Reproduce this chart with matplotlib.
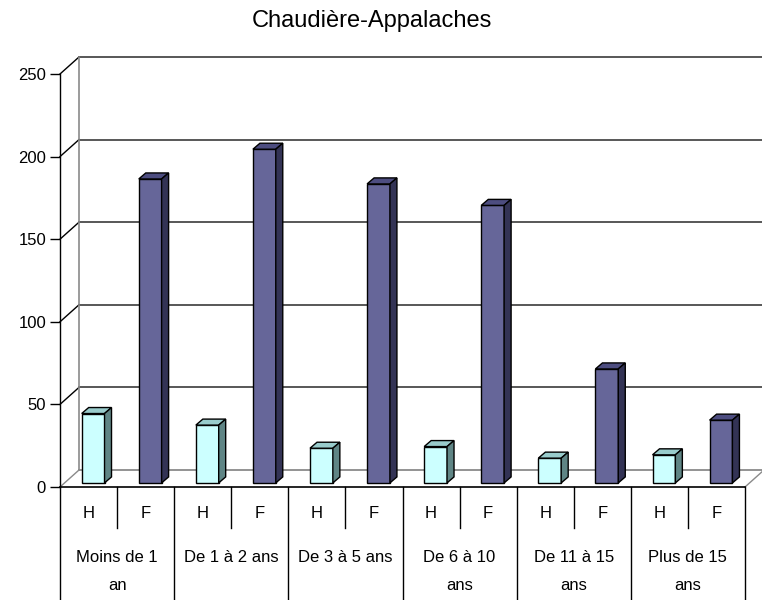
import matplotlib
matplotlib.use("Agg")
import matplotlib.pyplot as plt
from matplotlib.patches import Polygon

plt.rcParams['font.family'] = ['Liberation Sans', 'DejaVu Sans']

title = "Chaudière-Appalaches"
groups = ["Moins de 1\nan", "De 1 à 2 ans", "De 3 à 5 ans", "De 6 à 10\nans", "De 11 à 15\nans", "Plus de 15\nans"]
sexes = ["H", "F"]
h_values = [42, 35, 21, 22, 15, 17]
f_values = [184, 202, 181, 168, 69, 38]
yticks = [0, 50, 100, 150, 200, 250]

face_cols = {"H": "#CCFFFF", "F": "#666699"}
top_cols = {"H": "#99CCCC", "F": "#4D4D80"}
side_cols = {"H": "#5F8585", "F": "#333355"}

W, H = 762, 600
fig = plt.figure(figsize=(W / 100, H / 100), dpi=100)
ax_l, ax_r, ax_t, ax_b = 60, 745, 74, 487
ax = fig.add_axes([ax_l / W, (H - ax_b) / H, (ax_r - ax_l) / W, (ax_b - ax_t) / H])
nslots = len(groups) * 2
ax.set_xlim(0, nslots)
ax.set_ylim(0, 250)
for s in ["top", "right", "bottom"]:
    ax.spines[s].set_visible(False)
ax.spines["left"].set_color("black")
ax.spines["left"].set_linewidth(1.0)
ax.set_xticks([])
ax.set_yticks(yticks)
ax.tick_params(axis="y", length=7, width=1, pad=3, labelsize=12, direction="out")
ax.patch.set_alpha(0)

# pixel -> data conversions
pxx = (ax_r - ax_l) / nslots
pxy = (ax_b - ax_t) / 250.0
ddx, ddy = 19 / pxx, 17 / pxy          # wall depth
bdx, bdy = 7 / pxx, 6 / pxy            # bar depth
fo = 0.24                              # bar placement in depth
ox, oy = fo * ddx, fo * ddy
bw = 0.40

grid_dark = "#4A4A4A"
grid_light = "#8A8A8A"
# back wall gridlines
for v in yticks:
    c = grid_light if v == 0 else grid_dark
    ax.plot([ddx, nslots + ddx], [v + ddy, v + ddy], color=c, lw=1.3, clip_on=False, zorder=1)
    ax.plot([0, ddx], [v, v + ddy], color=(grid_light if v == 0 else "black"), lw=1.0, clip_on=False, zorder=1)
ax.plot([ddx, ddx], [ddy, 250 + ddy], color=grid_light, lw=1.2, clip_on=False, zorder=1)
ax.plot([nslots, nslots + ddx], [0, ddy], color=grid_light, lw=1.0, clip_on=False, zorder=1)

# bars
for gi in range(len(groups)):
    for si, (sx, vals) in enumerate(zip(sexes, [h_values, f_values])):
        v = vals[gi]
        xc = gi * 2 + si + 0.5 + ox
        x0, x1 = xc - bw / 2, xc + bw / 2
        ax.bar([xc], [v], bottom=oy, width=bw, color=face_cols[sx], edgecolor="black",
               linewidth=1.0, zorder=3, clip_on=False)
        top = Polygon([(x0, v + oy), (x1, v + oy), (x1 + bdx, v + oy + bdy), (x0 + bdx, v + oy + bdy)],
                      closed=True, facecolor=top_cols[sx], edgecolor="black", lw=1.0, zorder=3,
                      clip_on=False)
        side = Polygon([(x1, oy), (x1 + bdx, oy + bdy), (x1 + bdx, v + oy + bdy), (x1, v + oy)],
                       closed=True, facecolor=side_cols[sx], edgecolor="black", lw=1.0, zorder=3,
                       clip_on=False)
        ax.add_patch(top)
        ax.add_patch(side)

# category table
xt = ax.get_xaxis_transform()
def fy(px):
    return -px / (ax_b - ax_t)

ax.plot([0, nslots], [0, 0], color="black", lw=1.2, clip_on=False, zorder=4)
for g in range(len(groups) + 1):
    ax.plot([g * 2, g * 2], [0, fy(130)], transform=xt, color="black", lw=1.0, clip_on=False, zorder=4)
for g in range(len(groups)):
    ax.plot([g * 2 + 1, g * 2 + 1], [0, fy(41)], transform=xt, color="black", lw=1.0, clip_on=False, zorder=4)
    for si, sx in enumerate(sexes):
        ax.text(g * 2 + si + 0.5, fy(26), sx, transform=xt, ha="center", va="center", fontsize=12)
    for li, line in enumerate(groups[g].split("\n")):
        ax.text(g * 2 + 1, fy(70 + 28 * li), line, transform=xt, ha="center", va="center", fontsize=12)

fig.text(372 / W, 1 - 21 / H, title, ha="center", va="center", fontsize=17)

fig.savefig("out.png", dpi=100)
